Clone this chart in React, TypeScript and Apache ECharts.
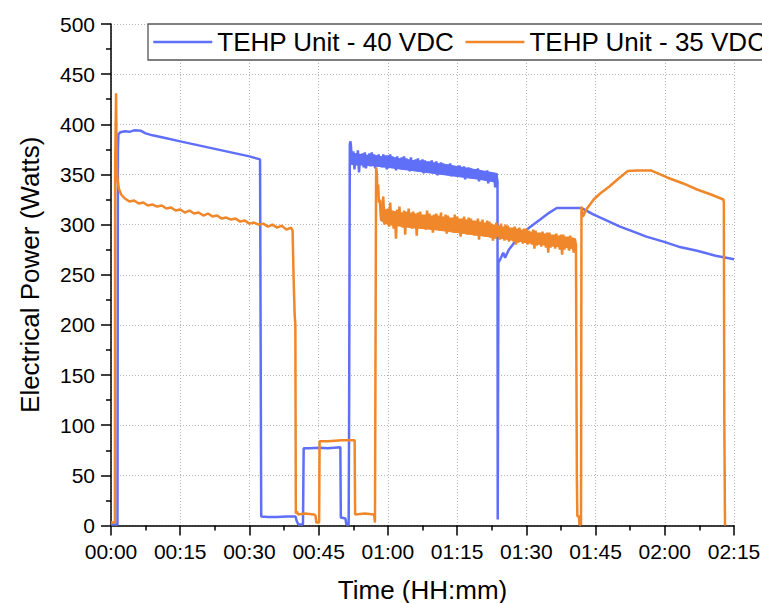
import React, { useEffect, useRef } from 'react';
import * as echarts from 'echarts';

const FONT = '"Liberation Sans", Arial, sans-serif';

const seriesNames = ['TEHP Unit - 40 VDC', 'TEHP Unit - 35 VDC'];
const seriesColors = ['#5f6ff8', '#f0872a'];

// time in minutes, power in watts
const blueHead: [number, number][] = [
  [0, 1], [1.4, 1], [1.5, 375], [1.6, 390], [2, 392], [3, 393], [4, 392.5], [5, 394], [6.5, 393.5],
  [7.5, 391], [9, 389], [10, 388], [12, 386], [15, 383], [18, 380], [20, 378], [23, 375], [25, 373],
  [28, 370], [30, 368], [32.3, 365], [32.45, 365], [32.55, 9], [34, 8.5], [36, 8.5], [38, 9], [40, 9],
  [40.2, 5], [40.6, 1], [41.6, 1], [41.75, 77], [43, 77], [45, 77.5], [47, 77], [49.7, 78], [49.8, 8],
  [50.8, 7], [51, 1], [51.5, 1], [51.6, 115], [51.75, 380], [51.9, 383],
];
const blueNoiseStart = 52;
const blueNoiseStep = 0.25;
const blueNoise: number[] = [
  378, 360, 373, 355, 371, 359, 374, 352, 370, 360, 371, 357, 372, 356, 369, 359,
  371, 358, 372, 361, 370, 356, 369, 359, 370, 361, 368, 357, 370, 359, 369, 355,
  369, 360, 370, 357, 368, 358, 367, 354, 368, 359, 366, 357, 367, 355, 368, 358,
  366, 357, 365, 353, 367, 356, 364, 357, 365, 354, 366, 356, 364, 355, 365, 351,
  364, 354, 363, 355, 363, 352, 364, 354, 362, 353, 363, 349, 361, 352, 362, 354,
  361, 350, 360, 353, 360, 351, 361, 348, 359, 350, 358, 352, 358, 348, 359, 351,
  357, 349, 358, 345, 356, 348, 357, 350, 356, 346, 355, 349, 355, 347, 356, 343,
  354, 345, 353, 347, 353, 344, 354, 341, 352, 344, 351, 345, 351, 337, 350, 343,
];
// dense core of the noisy blue trace: [time, upper, lower]
const blueCore: [number, number, number][] = [
  [52.1, 371, 360], [56, 369, 359], [60, 367, 357], [65, 364, 354], [70, 361, 351],
  [75, 358, 348], [80, 354, 345], [83.7, 351, 342],
];
const blueTail: [number, number][] = [
  [83.8, 6], [83.9, 6], [83.95, 262], [84.3, 265], [85.0, 272], [85.4, 267], [86.2, 275], [87.2, 281],
  [88.5, 288], [90.1, 295], [93, 305], [95, 312], [96.6, 316.5], [102, 316.5], [104.6, 310], [107, 305],
  [110.3, 298], [113.2, 293], [116, 288], [119.7, 283], [123, 278], [127, 274], [131, 269], [135, 265.5],
];

const orangeHead: [number, number][] = [
  [0, 3], [0.85, 3], [0.9, 360], [1.1, 431], [1.25, 360], [1.4, 345], [1.7, 336], [2.2, 330],
  [3, 326], [4, 323], [5, 324], [6, 321], [7, 322], [8, 319], [9, 320], [10, 318], [11, 319], [12, 316],
  [13, 317], [14, 314], [15, 315], [16, 312], [17, 314], [18, 311], [19, 312], [20, 309], [21, 311],
  [22, 308], [23, 309], [24, 306], [25, 307], [26, 305], [27, 306], [28, 303], [29, 304], [30, 301],
  [31, 302], [32, 300], [33, 301], [34, 298], [35, 300], [36, 297], [37, 299], [38, 295], [39, 297],
  [39.35, 294], [39.55, 250], [39.8, 210], [39.95, 200], [40.05, 12], [40.3, 14], [40.5, 11], [42, 12],
  [44, 11], [44.3, 10], [44.5, 3], [45.1, 3], [45.2, 84], [47, 84], [50, 85], [52.8, 85], [52.9, 11],
  [55, 12], [57, 11], [57.2, 3], [57.35, 3], [57.45, 357], [57.6, 352], [57.75, 330], [57.9, 340],
  [58.05, 322],
];
const orangeNoiseStart = 58.25;
const orangeNoiseStep = 0.25;
const orangeNoise: number[] = [
  325, 305, 318,
  328, 300, 314, 304, 316, 298, 322, 302, 314, 296, 313, 286, 315, 299, 318, 300,
  312, 297, 314, 290, 313, 298, 316, 299, 312, 296, 313, 297, 311, 289, 312, 298,
  313, 297, 310, 296, 310, 295, 314, 297, 311, 296, 309, 292, 310, 296, 311, 295,
  309, 294, 312, 296, 308, 295, 310, 291, 309, 294, 307, 295, 307, 292, 310, 294,
  308, 293, 306, 288, 306, 292, 308, 293, 305, 290, 307, 292, 306, 291, 304, 289,
  304, 290, 306, 285, 303, 289, 305, 290, 302, 288, 304, 289, 303, 287, 301, 284,
  300, 286, 302, 288, 299, 285, 301, 287, 298, 284, 300, 286, 299, 283, 297, 285,
  297, 283, 298, 280, 296, 282, 297, 284, 295, 281, 296, 283, 296, 280, 294, 282,
  293, 280, 295, 276, 294, 279, 292, 281, 292, 278, 293, 280, 291, 277, 292, 272,
  292, 277, 290, 279, 290, 276, 291, 278, 289, 275, 290, 270, 290, 275, 288, 277,
  288, 274, 289, 276, 287, 272, 286, 280,
];
// dense core of the noisy orange trace: [time, upper, lower]
const orangeCore: [number, number, number][] = [
  [58.4, 318, 304], [60, 314, 300], [65, 310, 297], [70, 307, 295], [75, 304, 292],
  [80, 301, 289], [85, 297, 286], [90, 293, 282], [95, 289, 279], [100.6, 286, 276],
];
const orangeTail: [number, number][] = [
  [100.85, 157], [100.95, 47], [101.05, 9.5], [101.4, 9], [101.5, 1], [101.85, 1], [101.95, 318],
  [102.25, 308], [103, 315], [104.6, 325], [106, 331], [108, 338], [110, 346], [112, 353.5],
  [114, 354], [117, 354], [118.5, 351], [120.5, 347], [124, 341], [127, 335], [130, 330],
  [132.7, 325], [132.8, 322], [132.9, 108], [133.05, 0],
];

const yTicks = { min: 0, max: 500, interval: 50 };
const xTicks = { min: 0, max: 135, interval: 15 };

function withNoise(head: [number, number][], start: number, step: number, noise: number[], tail: [number, number][]) {
  const mid: [number, number][] = noise.map((v, i) => [start + i * step, v]);
  return [...head, ...mid, ...tail];
}

function pad(n: number) {
  return (n < 10 ? '0' : '') + n;
}

function bandSeries(name: string, core: [number, number, number][], color: string) {
  return {
    name,
    type: 'custom',
    coordinateSystem: 'cartesian2d',
    data: [[core[0][0], core[0][1]]],
    z: 1,
    silent: true,
    renderItem: (params: any, api: any) => {
      const upper = core.map((c) => api.coord([c[0], c[1]]));
      const lower = core.map((c) => api.coord([c[0], c[2]])).reverse();
      return {
        type: 'polygon',
        shape: { points: [...upper, ...lower] },
        style: { fill: color, stroke: color, lineWidth: 1 },
      };
    },
  };
}

export default function App() {
  const ref = useRef<HTMLDivElement>(null);
  useEffect(() => {
    const chart = echarts.init(ref.current!, null, { renderer: 'svg' });
    const blue = withNoise(blueHead, blueNoiseStart, blueNoiseStep, blueNoise, blueTail);
    const orange = withNoise(orangeHead, orangeNoiseStart, orangeNoiseStep, orangeNoise, orangeTail);
    const splitLine = { show: true, lineStyle: { color: '#b5b5b5', type: [1, 2] as any, width: 1 } };
    chart.setOption({
      animation: false,
      backgroundColor: '#fff',
      textStyle: { fontFamily: FONT },
      grid: {
        left: 111, width: 623, top: 24, height: 501.5,
        containLabel: false, outerBoundsMode: 'none',
      },
      legend: {
        left: 148,
        top: 24,
        width: 900,
        padding: [3, 10, 3, 4],
        itemWidth: 59,
        itemHeight: 14,
        itemGap: 10,
        borderColor: '#555',
        borderWidth: 1.3,
        backgroundColor: '#fff',
        itemStyle: { opacity: 0 },
        lineStyle: { width: 2.5 },
        textStyle: { fontSize: 26, fontFamily: FONT, color: '#000', lineHeight: 30 },
        data: seriesNames,
      },
      xAxis: {
        type: 'value',
        ...xTicks,
        name: 'Time (HH:mm)',
        nameLocation: 'middle',
        nameGap: 51,
        nameTextStyle: { fontSize: 26, fontFamily: FONT, color: '#000' },
        axisLine: { show: true, onZero: false, lineStyle: { color: '#000', width: 1.5 } },
        axisTick: { show: true, length: 10, lineStyle: { color: '#000', width: 1.5 } },
        minorTick: { show: true, splitNumber: 2, length: 5, lineStyle: { color: '#000', width: 1.5 } },
        axisLabel: {
          fontSize: 21, fontFamily: FONT, color: '#000', margin: 15,
          formatter: (v: number) => pad(Math.floor(v / 60)) + ':' + pad(Math.round(v % 60)),
        },
        splitLine,
      },
      yAxis: {
        type: 'value',
        ...yTicks,
        name: 'Electrical Power (Watts)',
        nameLocation: 'middle',
        nameGap: 68,
        nameTextStyle: { fontSize: 26, fontFamily: FONT, color: '#000' },
        axisLine: { show: true, onZero: false, lineStyle: { color: '#000', width: 1.5 } },
        axisTick: { show: true, length: 10, lineStyle: { color: '#000', width: 1.5 } },
        minorTick: { show: true, splitNumber: 2, length: 5, lineStyle: { color: '#000', width: 1.5 } },
        axisLabel: { fontSize: 21, fontFamily: FONT, color: '#000', margin: 16 },
        splitLine,
      },
      series: [
        bandSeries('blueCore', blueCore, seriesColors[0]),
        {
          name: seriesNames[0], type: 'line', data: blue, showSymbol: false, symbol: 'none',
          color: seriesColors[0], lineStyle: { color: seriesColors[0], width: 2.5 }, z: 2,
        },
        bandSeries('orangeCore', orangeCore, seriesColors[1]),
        {
          name: seriesNames[1], type: 'line', data: orange, showSymbol: false, symbol: 'none',
          color: seriesColors[1], lineStyle: { color: seriesColors[1], width: 2.5 }, z: 3,
        },
      ],
    });
    return () => chart.dispose();
  }, []);
  return (
    <div
      ref={ref}
      style={{ position: 'fixed', left: 0, top: 0, width: 762, height: 603, background: '#fff' }}
    />
  );
}
